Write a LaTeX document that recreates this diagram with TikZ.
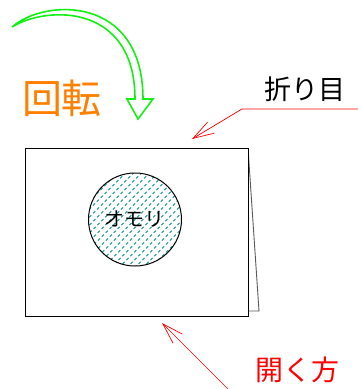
\documentclass[tikz,border=0pt]{standalone}
\usepackage{fontspec}
\newfontfamily\jp{Noto Sans CJK JP}
\usetikzlibrary{arrows.meta,calc}
\definecolor{grn}{RGB}{20,240,20}
\definecolor{org}{RGB}{255,128,0}
\definecolor{hatch}{RGB}{0,140,140}
\tikzset{
  redline/.style={draw=red, line width=0.7pt, -{Straight Barb[length=21pt,width=13pt]}},
  rotarrow/.style={draw=grn, line width=1.6pt, line join=miter},
  lbl/.style={inner sep=0pt, font=\jp}
}
\begin{document}
\begin{tikzpicture}[x=1pt,y=-1pt]
\useasboundingbox (0,0) rectangle (358,389);
% back page
\draw[gray!70!black, line width=0.9pt] (248,148) -- (259,311) -- (248,311);
% card
\node[draw=black, line width=1pt, minimum width=223pt, minimum height=168pt, inner sep=0pt, fill=white] (card) at (136.5,232) {};
% weight
\coordinate (wc) at (135,219.5);
\begin{scope}
  \clip (wc) circle (46.5);
  \foreach \i in {-120,-112,...,120}{
    \draw[hatch, line width=0.8pt, dash pattern=on 3pt off 2.5pt] ($(wc)+(\i-60,60)$) -- ($(wc)+(\i+60,-60)$);
  }
\end{scope}
\draw[black, line width=1pt] (wc) circle (46.5);
\node[lbl, font=\jp\fontsize{20}{22}\selectfont] (omori) at (134,219) {オモリ};
% rotation arrow
\coordinate (rs) at (12,27);
\draw[rotarrow] (rs) .. controls (45,-2) and (143,-5) .. (143,99)
  -- (153,99) -- (138,119) -- (127,99) -- (135,99)
  .. controls (135,4) and (48,5) .. (rs);
\node[lbl, text=org, font=\jp\fontsize{40}{44}\selectfont] (rot) at (62,98) {回転};
% fold label
\node[lbl, font=\jp\fontsize{27}{30}\selectfont] (fold) at (305,89) {折り目};
\coordinate (f0) at (358,109);
\coordinate (f1) at (242,109);
\coordinate (ftip) at (192,139);
\draw[redline] (f0) -- (f1) -- (ftip);
% open label
\node[lbl, text=red, font=\jp\fontsize{28}{30}\selectfont] (open) at (297,370) {開く方};
\coordinate (o0) at (228,389);
\coordinate (otip) at (162,323);
\draw[redline] (o0) -- (otip);
\end{tikzpicture}
\end{document}
